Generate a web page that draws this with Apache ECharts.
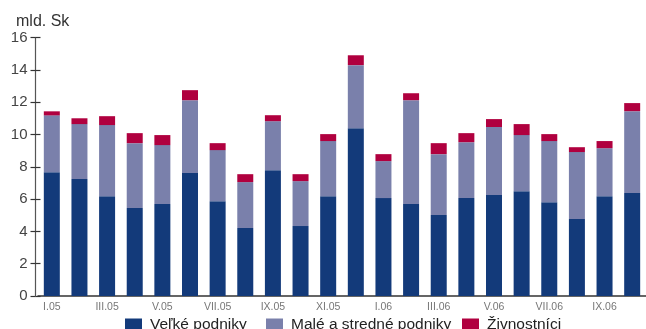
<!DOCTYPE html>
<html>
<head>
<meta charset="utf-8">
<script src="https://cdn.jsdelivr.net/npm/echarts@6/dist/echarts.min.js"></script>
<style>
  html, body { margin: 0; padding: 0; background: #fff; }
  #chart { width: 646px; height: 329px; }
</style>
</head>
<body>
<div id="chart"></div>
<script>
// Months I.05 – X.06
const months = ['I.05','II.05','III.05','IV.05','V.05','VI.05','VII.05','VIII.05','IX.05','X.05','XI.05','XII.05',
                'I.06','II.06','III.06','IV.06','V.06','VI.06','VII.06','VIII.06','IX.06','X.06'];
// Values in mld. Sk
const velke = [7.66, 7.24, 6.18, 5.44, 5.69, 7.61, 5.87, 4.21, 7.79, 4.33, 6.18, 10.39,
               6.06, 5.69, 5.01, 6.06, 6.25, 6.49, 5.81, 4.76, 6.18, 6.37];
const male = [3.52, 3.40, 4.40, 4.02, 3.65, 4.51, 3.16, 2.84, 3.03, 2.78, 3.41, 3.90,
              2.29, 6.43, 3.77, 3.46, 4.21, 3.47, 3.78, 4.15, 2.97, 5.07];
const zivnostnici = [0.25, 0.36, 0.55, 0.62, 0.62, 0.62, 0.43, 0.49, 0.37, 0.43, 0.43, 0.61,
                     0.43, 0.43, 0.68, 0.56, 0.49, 0.68, 0.43, 0.30, 0.44, 0.50];
const yTicks = [0, 2, 4, 6, 8, 10, 12, 14, 16];
const seriesNames = ['Veľké podniky', 'Malé a stredné podniky', 'Živnostníci'];
const colors = ['#133a7a', '#7a80ab', '#b0003f'];

const FONT = '"Liberation Sans Narrow", "Liberation Sans", Arial, sans-serif';

const chart = echarts.init(document.getElementById('chart'), null, { renderer: 'canvas' });

const legendCommon = {
  bottom: -9,
  itemWidth: 17,
  itemHeight: 13,
  itemGap: 8,
  icon: 'rect',
  textStyle: { fontFamily: FONT, fontSize: 15.5, color: '#222', padding: [0, 0, 0, 3] },
  selectedMode: false
};

chart.setOption({
  animation: false,
  title: {
    text: 'mld. Sk',
    left: 11,
    top: 9,
    textStyle: { fontFamily: FONT, fontSize: 16, fontWeight: 'normal', color: '#333' }
  },
  legend: [
    Object.assign({ left: 120, data: [seriesNames[0]] }, legendCommon),
    Object.assign({ left: 261, data: [seriesNames[1]] }, legendCommon),
    Object.assign({ left: 457, data: [seriesNames[2]] }, legendCommon)
  ],
  grid: { left: 38, right: -5, top: 37.5, bottom: 33 },
  xAxis: {
    type: 'category',
    data: months,
    boundaryGap: true,
    axisLine: { lineStyle: { color: '#333', width: 1.5 } },
    axisTick: { show: false },
    axisLabel: {
      interval: 1,
      fontFamily: FONT,
      fontSize: 10.5,
      color: '#777',
      margin: 6
    }
  },
  yAxis: [
    {
      type: 'value',
      min: yTicks[0],
      max: yTicks[yTicks.length - 1],
      interval: 2,
      offset: 2.5,
      splitLine: { show: false },
      axisLine: { show: true, lineStyle: { color: '#555', width: 1.2 } },
      axisTick: { show: true, length: 5, lineStyle: { color: '#333', width: 1.2 } },
      axisLabel: { fontFamily: FONT, fontSize: 15, color: '#444', margin: 8 }
    },
    {
      type: 'value',
      position: 'left',
      min: yTicks[0],
      max: yTicks[yTicks.length - 1],
      interval: 2,
      offset: 2.5,
      splitLine: { show: false },
      axisLine: { show: false },
      axisTick: { show: true, inside: true, length: 5, lineStyle: { color: '#333', width: 1.2 } },
      axisLabel: { show: false }
    }
  ],
  series: [velke, male, zivnostnici].map((vals, i) => ({
    name: seriesNames[i],
    type: 'bar',
    stack: 'total',
    barWidth: 16,
    data: vals,
    itemStyle: { color: colors[i] }
  }))
});
</script>
</body>
</html>
